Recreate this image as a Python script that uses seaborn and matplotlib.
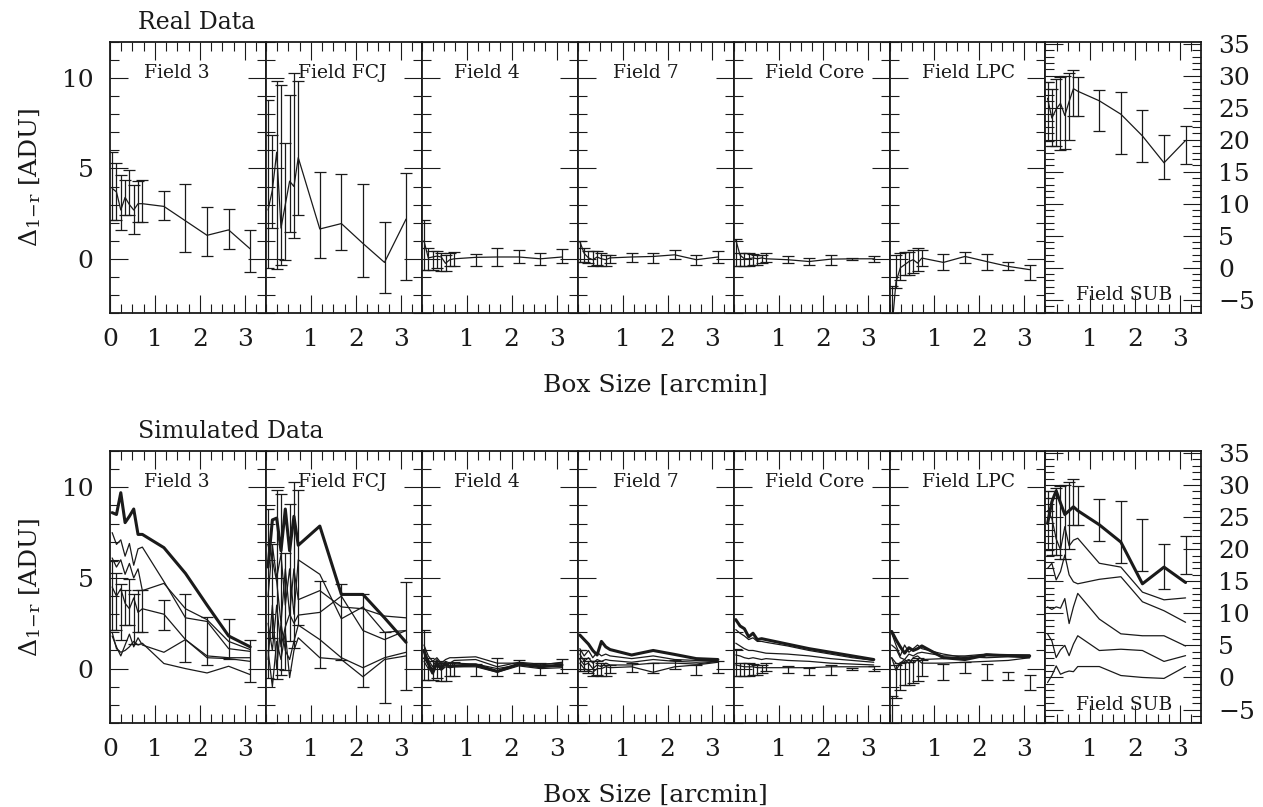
import numpy as np
import matplotlib.pyplot as plt
from matplotlib.ticker import MultipleLocator, FixedLocator
import seaborn as sns

sns.set_theme(style="ticks")
plt.rcParams['font.family'] = ['DejaVu Serif']
plt.rcParams['mathtext.fontset'] = 'dejavuserif'

# box sizes [arcmin]
box = [0.048, 0.144, 0.24, 0.336, 0.432, 0.528, 0.624, 0.72, 1.2, 1.68, 2.16, 2.64, 3.12]
fields = ["Field 3", "Field FCJ", "Field 4", "Field 7", "Field Core", "Field LPC", "Field SUB"]

# real data curves
real_f3 = [3.9, 3.7, 2.7, 3.4, 3.0, 2.7, 3.05, 3.05, 2.9, 2.1, 1.3, 1.6, 0.55]
real_fcj = [2.7, 3.8, 5.9, 1.7, 3.0, 4.3, 4.0, 5.6, 1.65, 1.95, 0.85, -0.2, 2.2]
real_f4 = [1.0, 0.05, 0.1, 0.15, 0.1, -0.25, -0.05, 0.0, 0.08, 0.1, 0.1, 0.0, 0.1]
real_f7 = [0.95, 0.3, 0.05, -0.05, 0.1, 0.0, -0.05, 0.05, 0.1, 0.13, 0.22, -0.05, 0.1]
real_core = [1.05, 0.2, 0.0, 0.0, 0.05, 0.0, 0.05, 0.0, -0.05, -0.15, -0.02, 0.0, 0.0]
real_lpc = [-4.0, -1.3, -0.5, -0.33, -0.15, -0.05, -0.24, 0.04, -0.2, 0.13, -0.15, -0.42, -0.6]
real_sub = [26.5, 23.4, 24.8, 25.7, 23.8, 26.0, 28.0, 27.6, 26.1, 24.0, 20.6, 16.4, 19.9]

# error bar bounds (low / high)
lo_f3 = [2.15, 2.12, 1.60, 2.43, 2.43, 1.38, 2.01, 2.01, 2.15, 0.37, 0.18, 0.53, -0.74]
hi_f3 = [5.93, 5.29, 4.64, 4.36, 4.92, 4.09, 4.33, 4.36, 3.78, 4.14, 2.85, 2.74, 1.57]
lo_fcj = [-0.52, 1.69, -0.55, -0.33, -0.06, 1.51, 1.14, 2.43, 0.04, 0.50, -1.01, -1.90, -1.20]
hi_fcj = [8.78, 6.85, 9.85, 9.61, 6.39, 9.06, 10.29, 9.85, 4.82, 4.68, 4.13, 2.03, 4.77]
lo_f4 = [-0.61, -0.61, -0.61, -0.52, -0.70, -0.70, -0.42, -0.42, -0.42, -0.39, -0.24, -0.33, -0.24]
hi_f4 = [2.12, 0.59, 0.41, 0.41, 0.31, 0.22, 0.31, 0.35, 0.28, 0.59, 0.50, 0.31, 0.53]
lo_f7 = [-0.15, -0.15, -0.24, -0.39, -0.33, -0.42, -0.42, -0.24, -0.20, -0.24, -0.02, -0.37, -0.24]
hi_f7 = [1.01, 0.59, 0.41, 0.41, 0.41, 0.31, 0.22, 0.22, 0.31, 0.31, 0.50, 0.22, 0.41]
lo_core = [-0.42, -0.42, -0.39, -0.39, -0.33, -0.33, -0.24, -0.15, -0.24, -0.33, -0.33, -0.06, -0.15]
hi_core = [1.09, 0.31, 0.31, 0.31, 0.28, 0.22, 0.22, 0.31, 0.17, 0.04, 0.22, 0.04, 0.13]
lo_lpc = [-4.1, -1.62, -1.16, -0.88, -0.88, -0.79, -0.70, -0.42, -0.61, -0.24, -0.61, -0.64, -1.16]
hi_lpc = [-1.53, 0.22, 0.31, 0.35, 0.35, 0.50, 0.59, 0.46, 0.28, 0.35, 0.28, -0.20, -0.33]
lo_sub = [19.85, 19.07, 19.07, 18.4, 18.5, 19.96, 23.8, 23.8, 21.3, 17.8, 16.6, 13.8, 16.2]
hi_sub = [29.0, 27.95, 29.5, 29.8, 30.0, 30.4, 30.9, 29.8, 27.8, 27.5, 24.7, 20.8, 22.1]

# simulated curves: one thick reference curve and several thin ones per field
thick_f3 = [8.6, 8.5, 9.7, 8.05, 8.4, 8.8, 7.4, 7.4, 6.67, 5.25, 3.5, 1.8, 1.2]
thin_f3 = [[7.5, 6.85, 7.1, 6.2, 6.9, 5.7, 6.6, 6.7, 4.8, 2.8, 2.6, 1.1, 0.95],
           [6.1, 5.6, 6.0, 5.2, 5.8, 5.0, 5.5, 4.3, 4.7, 3.3, 2.7, 1.5, 1.05],
           [4.5, 4.0, 4.4, 3.6, 3.3, 3.9, 3.1, 3.3, 3.0, 1.6, 0.6, 0.55, 0.4],
           [1.8, 1.2, 0.7, 1.3, 1.9, 1.2, 1.7, 1.3, 0.9, 1.6, 0.7, 0.6, 0.6],
           [2.0, 1.1, 0.9, 1.0, 1.2, 1.5, 1.3, 1.4, 0.28, 0.0, -0.24, 0.13, -0.33]]
thick_fcj = [5.6, 8.2, 8.3, 6.5, 8.8, 6.5, 8.4, 6.8, 7.86, 4.09, 4.09, 2.8, 1.45]
thin_fcj = [[4.0, 6.8, 5.0, 6.3, 3.5, 5.5, 3.0, 6.0, 5.2, 2.75, 3.4, 2.0, 2.1],
            [6.8, 6.0, 4.8, 2.5, 5.5, 3.0, 5.5, 3.8, 4.3, 3.4, 3.3, 2.9, 2.8],
            [2.5, 1.0, 3.5, 1.2, 2.3, 3.0, 2.5, 2.95, 3.1, 4.0, 2.1, 1.6, 2.1],
            [0.5, 3.5, 0.0, 2.5, 1.0, 0.5, 1.5, 2.4, 1.6, 0.6, 0.05, 0.6, 0.9],
            [1.0, -1.0, 1.5, 0.5, 2.0, -0.5, 1.0, 1.7, 0.6, 0.5, -0.45, 0.5, 0.7]]
thick_f4 = [1.0, 0.3, -0.25, 0.3, 0.0, 0.3, 0.1, 0.15, 0.2, -0.15, 0.25, 0.1, 0.2]
thin_f4 = [[1.3, 0.7, 0.4, 0.6, 0.3, 0.5, 0.6, 0.6, 0.65, 0.3, 0.3, 0.2, 0.35],
           [0.9, 0.5, 0.1, 0.5, 0.2, 0.4, 0.3, 0.45, 0.5, 0.1, 0.35, 0.25, 0.3],
           [0.6, 0.2, 0.0, 0.3, 0.1, 0.2, 0.1, 0.3, 0.25, 0.0, 0.2, 0.15, 0.1],
           [0.4, 0.0, -0.2, 0.2, -0.1, 0.1, 0.05, 0.1, 0.1, -0.2, 0.15, 0.0, 0.05]]
thick_f7 = [1.85, 1.6, 1.35, 1.0, 0.75, 1.5, 1.2, 1.05, 0.75, 1.0, 0.78, 0.55, 0.5]
thin_f7 = [[1.1, 0.7, 1.0, 0.6, 0.9, 0.7, 0.8, 0.7, 0.55, 0.7, 0.5, 0.45, 0.45],
           [0.8, 0.4, 0.6, 0.3, 0.5, 0.4, 0.5, 0.45, 0.35, 0.5, 0.4, 0.35, 0.4],
           [0.5, 0.2, 0.3, 0.0, 0.2, 0.1, 0.3, 0.2, 0.2, 0.3, 0.3, 0.25, 0.4],
           [0.3, 0.0, -0.1, -0.2, 0.0, 0.0, 0.1, 0.05, 0.1, -0.2, 0.1, 0.2, 0.35]]
thick_core = [2.7, 2.35, 2.2, 1.75, 1.95, 1.6, 1.65, 1.6, 1.35, 1.1, 0.9, 0.7, 0.5]
thin_core = [[2.15, 1.95, 1.8, 1.6, 1.7, 1.5, 1.5, 1.45, 1.25, 1.0, 0.8, 0.6, 0.45],
             [1.4, 1.25, 1.1, 1.0, 1.0, 0.95, 0.9, 0.85, 0.8, 0.7, 0.55, 0.45, 0.35],
             [0.75, 0.7, 0.6, 0.55, 0.6, 0.55, 0.5, 0.55, 0.45, 0.4, 0.3, 0.25, 0.2],
             [0.2, 0.15, 0.1, 0.1, 0.1, 0.05, 0.05, 0.05, 0.05, 0.05, 0.1, 0.1, 0.1]]
thick_lpc = [2.05, 1.6, 1.2, 0.85, 1.15, 1.0, 1.1, 1.25, 0.6, 0.5, 0.75, 0.72, 0.7]
thin_lpc = [[1.95, 1.3, 0.7, 1.3, 0.9, 1.1, 1.3, 1.1, 0.8, 0.6, 0.8, 0.75, 0.75],
            [1.3, 1.1, 0.6, 0.5, 0.8, 0.7, 0.85, 0.9, 0.7, 0.7, 0.8, 0.7, 0.65],
            [0.6, -0.1, 0.3, 0.5, 0.3, 0.6, 0.7, 0.5, 0.55, 0.65, 0.6, 0.65, 0.6],
            [0.6, 0.3, 0.2, 0.4, 0.5, 0.3, 0.5, 0.3, 0.3, 0.35, 0.4, 0.45, 0.6]]
thick_sub = [24.0, 27.4, 29.1, 27.2, 25.4, 26.0, 26.6, 26.0, 23.8, 21.1, 14.6, 17.2, 14.8]
thin_sub = [[26.0, 24.8, 21.6, 19.9, 23.5, 20.5, 21.4, 21.7, 17.8, 17.2, 13.3, 12.1, 12.4],
            [17.0, 17.8, 15.2, 16.5, 19.1, 16.0, 14.9, 14.6, 15.3, 15.7, 11.8, 10.4, 8.6],
            [11.0, 10.6, 11.0, 10.8, 12.3, 8.4, 11.0, 13.1, 9.1, 6.8, 6.5, 6.5, 4.9],
            [6.8, 5.7, 3.1, 4.3, 5.0, 3.4, 5.2, 6.5, 4.2, 4.4, 4.2, 2.5, 3.4],
            [-0.8, 0.3, 1.8, 0.5, 0.8, 1.0, 0.9, 1.7, 1.7, 0.3, 0.0, -0.15, 1.7]]

real_lines = [real_f3, real_fcj, real_f4, real_f7, real_core, real_lpc, real_sub]
bars_lo = [lo_f3, lo_fcj, lo_f4, lo_f7, lo_core, lo_lpc, lo_sub]
bars_hi = [hi_f3, hi_fcj, hi_f4, hi_f7, hi_core, hi_lpc, hi_sub]
sim_thick = [thick_f3, thick_fcj, thick_f4, thick_f7, thick_core, thick_lpc, thick_sub]
sim_thin = [thin_f3, thin_fcj, thin_f4, thin_f7, thin_core, thin_lpc, thin_sub]

# label positions in axes coords
label_pos = [(0.43, 0.886), (0.49, 0.886), (0.42, 0.886), (0.436, 0.886),
             (0.52, 0.886), (0.506, 0.886), (0.506, 0.066)]

W, H = 1263, 807
fig = plt.figure(figsize=(W / 100, H / 100), dpi=100)

x0, pw = 110, 155.9
rows = [(42, 271, "Real Data"), (451, 272, "Simulated Data")]

for r, (top, h, title) in enumerate(rows):
    for i, name in enumerate(fields):
        left = x0 + i * pw
        ax = fig.add_axes([left / W, 1 - (top + h) / H, pw / W, h / H])
        sub = (i == 6)

        lo = np.array(bars_lo[i])
        hi = np.array(bars_hi[i])
        ax.errorbar(box, (lo + hi) / 2, yerr=(hi - lo) / 2, fmt='none',
                    ecolor='#1a1a1a', elinewidth=0.9, capsize=4, capthick=0.9)

        if r == 0:
            sns.lineplot(x=box, y=real_lines[i], ax=ax, color='k', lw=0.9,
                         sort=False, estimator=None)
        else:
            for t in sim_thin[i]:
                sns.lineplot(x=box, y=t, ax=ax, color='k', lw=0.9,
                             sort=False, estimator=None)
            sns.lineplot(x=box, y=sim_thick[i], ax=ax, color='k', lw=2.2,
                         sort=False, estimator=None)

        ax.set_xlim(0, 3.47)
        if sub:
            ax.set_ylim(-7.1, 35.3)
        else:
            ax.set_ylim(-3, 12)
        ax.xaxis.set_major_locator(FixedLocator([0, 1, 2, 3] if i == 0 else [1, 2, 3]))
        ax.xaxis.set_minor_locator(MultipleLocator(0.25))
        ax.yaxis.set_major_locator(MultipleLocator(5))
        ax.yaxis.set_minor_locator(MultipleLocator(1))
        ax.tick_params(which='both', direction='in', top=True, right=True,
                       bottom=True, left=True, color='k', width=0.8,
                       labelsize=18, labelcolor='k')
        ax.tick_params(which='major', length=13)
        ax.tick_params(which='minor', length=6.5)
        ax.tick_params(axis='x', pad=11)
        ax.tick_params(axis='y', pad=12, labelleft=(i == 0), labelright=sub)
        ax.set_xlabel('')
        ax.set_ylabel('')
        for s in ax.spines.values():
            s.set_color('k')
            s.set_linewidth(1.3)

        lx, ly = label_pos[i]
        ax.text(lx, ly, name, transform=ax.transAxes, ha='center', va='center',
                fontsize=13.5, color='k')

    fig.text(138 / W, 1 - (top - 13) / H, title, fontsize=17, ha='left',
             va='baseline', color='k')
    fig.text(655 / W, 1 - (top + h + 72) / H, "Box Size [arcmin]", fontsize=18,
             ha='center', va='center', color='k')
    fig.text(30 / W, 1 - (top + h / 2) / H, r"$\Delta_{\mathrm{1{-}r}}$ [ADU]",
             fontsize=18, rotation=90, ha='center', va='center', color='k')

fig.savefig('out.png', dpi=100)
